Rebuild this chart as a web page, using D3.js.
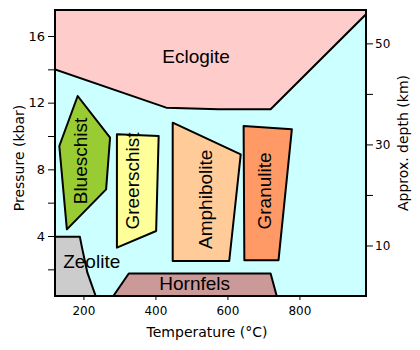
<!DOCTYPE html>
<html>
<head>
<meta charset="utf-8">
<script src="https://cdn.jsdelivr.net/npm/d3@7"></script>
<style>
  body { margin: 0; background: #fff; }
  svg { display: block; }
  .axis-text { font-family: "Comic Sans MS", "DejaVu Sans", sans-serif; fill: #000; }
  .facies-label { font-family: "Liberation Sans", Arial, sans-serif; font-size: 19px; fill: #000; }
</style>
</head>
<body>
<div id="chart"></div>
<script>
// metamorphic facies, outlines in (temperature °C, pressure kbar)
const faciesNames = ["Eclogite", "Blueschist", "Greerschist", "Amphibolite", "Granulite", "Zeolite", "Hornfels"];
const faciesShapes = [
    [[121, 17.6], [985, 17.6], [985, 17.3], [720, 11.6], [575, 11.6], [430, 11.7], [121, 14.0]],
    [[184, 12.4], [274, 9.9], [263, 6.8], [154, 4.4], [133, 9.4]],
    [[293, 10.1], [409, 10.0], [402, 4.3], [293, 3.3]],
    [[448, 10.8], [637, 8.9], [605, 2.5], [448, 2.5]],
    [[645, 10.6], [779, 10.4], [742, 2.55], [647, 2.55]],
    [[121, 3.96], [190, 3.96], [196, 3.3], [211, 1.8], [234, 0.4], [121, 0.4]],
    [[283, 0.4], [326, 1.75], [720, 1.75], [737, 0.4]]
];
// label anchors (temperature, pressure) and whether the label runs vertically
const labelAt = [[513, 14.4], [211, 8.5], [353, 7.3], [557, 6.2], [720, 6.7], [223, 2.1], [509, 0.75]];
const labelUpright = [false, true, true, true, true, false, false];

const tempTicks = [200, 400, 600, 800];
const pressTicks = [2, 4, 6, 8, 10, 12, 14, 16];
const pressLabels = [4, 8, 12, 16];
const depthTicks = [10, 20, 30, 40, 50];
const depthLabels = [10, 30, 50];

const colors = ["#ffcccc", "#99cc33", "#ffff99", "#ffcc99", "#ff9966", "#cccccc", "#cc9999"];

const width = 420, height = 350;
const plotLeft = 55, plotRight = 366, plotTop = 10, plotBottom = 296;

const x = d3.scaleLinear().domain([121, 985]).range([plotLeft, plotRight]);
const y = d3.scaleLinear().domain([0.4, 17.56]).range([plotBottom, plotTop]);
const yDepth = d3.scaleLinear().domain([0, 56.6]).range([plotBottom, plotTop]);

const svg = d3.select("#chart").append("svg")
    .attr("width", width)
    .attr("height", height);

svg.append("defs").append("clipPath").attr("id", "plot-clip")
    .append("rect")
    .attr("x", plotLeft).attr("y", plotTop)
    .attr("width", plotRight - plotLeft).attr("height", plotBottom - plotTop);

// background
svg.append("rect")
    .attr("x", plotLeft).attr("y", plotTop)
    .attr("width", plotRight - plotLeft).attr("height", plotBottom - plotTop)
    .style("fill", "#ccffff");

const line = d3.line().x(d => x(d[0])).y(d => y(d[1]));

const plot = svg.append("g").attr("clip-path", "url(#plot-clip)");

plot.selectAll("path.facies")
    .data(faciesShapes)
    .enter().append("path")
    .attr("class", "facies")
    .attr("d", d => line(d) + "Z")
    .style("fill", (d, i) => colors[i])
    .style("stroke", "#000")
    .style("stroke-width", 2)
    .style("stroke-linejoin", "round");

plot.selectAll("text.facies-label")
    .data(faciesNames)
    .enter().append("text")
    .attr("class", "facies-label")
    .attr("text-anchor", "middle")
    .attr("transform", (d, i) => {
        const p = labelAt[i];
        return "translate(" + x(p[0]) + "," + y(p[1]) + ")" + (labelUpright[i] ? " rotate(-90)" : "");
    })
    .text(d => d);

// frame
svg.append("rect")
    .attr("x", plotLeft).attr("y", plotTop)
    .attr("width", plotRight - plotLeft).attr("height", plotBottom - plotTop)
    .style("fill", "none")
    .style("stroke", "#000")
    .style("stroke-width", 2);

// axes
const xAxis = d3.axisBottom(x).tickValues(tempTicks).tickSize(3).tickPadding(6);
const yAxis = d3.axisLeft(y).tickValues(pressTicks).tickSize(6).tickPadding(3)
    .tickFormat(d => pressLabels.includes(d) ? d : "");
const rAxis = d3.axisRight(yDepth).tickValues(depthTicks).tickSize(6).tickPadding(2)
    .tickFormat(d => depthLabels.includes(d) ? d : "");

function styleAxis(g, size) {
    g.select(".domain").remove();
    g.selectAll("text").attr("class", "axis-text").style("font-size", size + "px").style("font-family", null);
    g.selectAll("line").style("stroke", "#000");
}

svg.append("g").attr("transform", "translate(0," + (plotBottom + 1) + ")")
    .call(xAxis).call(g => styleAxis(g, 12));
svg.append("g").attr("transform", "translate(" + (plotLeft - 1) + ",0)")
    .call(yAxis).call(g => styleAxis(g, 13));
svg.append("g").attr("transform", "translate(" + (plotRight + 1) + ",0)")
    .call(rAxis).call(g => styleAxis(g, 12));

// axis titles
svg.append("text")
    .attr("class", "axis-text")
    .attr("x", 207).attr("y", 337)
    .attr("text-anchor", "middle")
    .style("font-size", "14px")
    .text("Temperature (°C)");

svg.append("text")
    .attr("class", "axis-text")
    .attr("transform", "translate(24,158) rotate(-90)")
    .attr("text-anchor", "middle")
    .style("font-size", "14px")
    .text("Pressure (kbar)");

svg.append("text")
    .attr("class", "axis-text")
    .attr("transform", "translate(408,143) rotate(-90)")
    .attr("text-anchor", "middle")
    .style("font-size", "14px")
    .text("Approx. depth (km)");
</script>
</body>
</html>
